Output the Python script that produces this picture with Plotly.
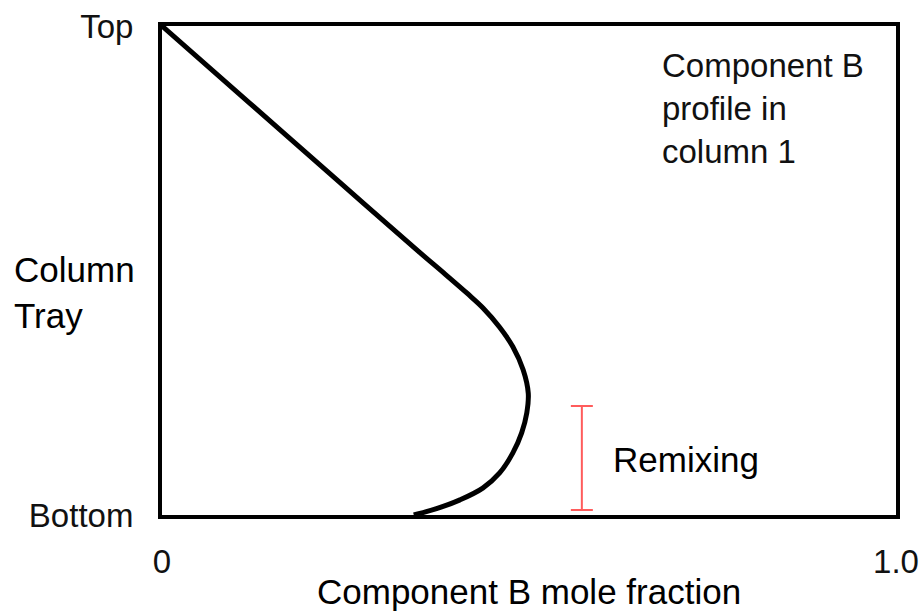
import plotly.graph_objects as go

# Component B profile (x = mole fraction, y = relative tray position, 0 = bottom, 1 = top)
profile_x = [0.0, 0.119, 0.243, 0.351, 0.383, 0.416, 0.437, 0.460, 0.478, 0.492, 0.499, 0.497,
             0.490, 0.478, 0.460, 0.437, 0.406, 0.374, 0.343]
profile_y = [1.0, 0.843, 0.679, 0.537, 0.496, 0.453, 0.424, 0.384, 0.344, 0.297, 0.249, 0.209,
             0.168, 0.127, 0.086, 0.055, 0.031, 0.013, 0.0]

# Remixing range marker
remix_x = 0.572
remix_low = 0.01
remix_high = 0.223

x_tickvals = [0, 1]
x_ticktext = ["0", "1.0"]
y_tickvals = [0, 1]
y_ticktext = ["Bottom", "Top"]

FONT = "Liberation Sans, Arial, sans-serif"

fig = go.Figure()
fig.add_trace(go.Scatter(
    x=profile_x, y=profile_y, mode="lines",
    line=dict(color="black", width=5, shape="spline", smoothing=1.0),
    hoverinfo="skip", showlegend=False,
))
fig.add_trace(go.Scatter(
    x=[remix_x], y=[(remix_low + remix_high) / 2], mode="markers",
    marker=dict(size=0.1, color="rgba(0,0,0,0)"),
    error_y=dict(type="data", symmetric=True, array=[(remix_high - remix_low) / 2],
                 color="#ff5c5c", thickness=2, width=11),
    hoverinfo="skip", showlegend=False,
))

fig.add_annotation(x=0.678, y=0.832, xref="paper", yref="paper",
                   xanchor="left", yanchor="middle", align="left", showarrow=False,
                   text="Component B<br>profile in<br>column 1",
                   font=dict(family=FONT, size=33, color="#111"))
fig.add_annotation(x=0.612, y=0.113, xref="paper", yref="paper",
                   xanchor="left", yanchor="middle", showarrow=False,
                   text="Remixing", font=dict(family=FONT, size=35, color="black"))
fig.add_annotation(x=-0.204, y=0.456, xref="paper", yref="paper",
                   xanchor="left", yanchor="middle", align="left", showarrow=False,
                   text="Column<br>Tray", font=dict(family=FONT, size=35, color="black"))
fig.add_annotation(x=0.5, y=-0.157, xref="paper", yref="paper",
                   xanchor="center", yanchor="middle", showarrow=False,
                   text="Component B mole fraction", font=dict(family=FONT, size=35, color="black"))

axis_common = dict(range=[0, 1], showgrid=False, zeroline=False, showline=True,
                   linecolor="black", linewidth=4, mirror=True, ticks="",
                   automargin=False,
                   tickfont=dict(family=FONT, size=33, color="#111"), fixedrange=True)
fig.update_xaxes(tickvals=x_tickvals, ticktext=x_ticktext, ticklabelstandoff=14, **axis_common)
fig.update_yaxes(tickvals=y_tickvals, ticktext=y_ticktext, ticklabelstandoff=18, **axis_common)

fig.update_layout(
    width=920, height=612,
    margin=dict(l=162, r=24, t=26, b=97),
    paper_bgcolor="white", plot_bgcolor="white",
    showlegend=False,
)

fig.write_html("out.html", config={"displayModeBar": False},
               post_script="document.body.style.margin='0';document.body.style.overflow='hidden';")
